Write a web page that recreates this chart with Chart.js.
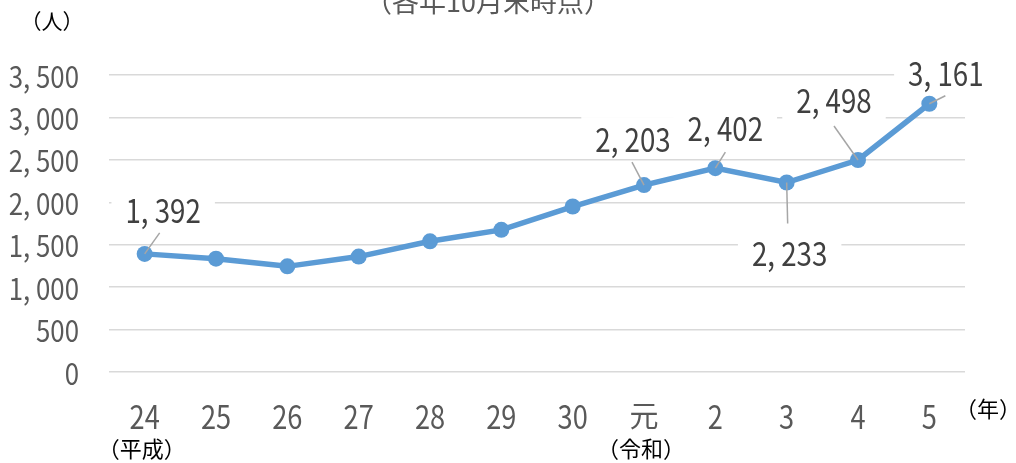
<!DOCTYPE html>
<html lang="ja">
<head>
<meta charset="utf-8">
<title>人数の推移</title>
<script src="https://cdn.jsdelivr.net/npm/chart.js@4.4.1/dist/chart.umd.min.js"></script>
<style>
  html, body { margin: 0; padding: 0; background: #ffffff; }
  #wrap { width: 1016px; height: 463px; position: relative; }
</style>
</head>
<body>
<div id="wrap"><canvas id="chart" width="1016" height="463"></canvas></div>
<script>
// Year labels (平成24年 … 令和5年) and the era captions shown under the first year of each era
const categories = ['24', '25', '26', '27', '28', '29', '30', '元', '2', '3', '4', '5'];
const eraLabels  = ['（平成）', '', '', '', '', '', '', '（令和）', '', '', '', ''];

// Number of people at the end of October each year
const residents = [1392, 1335, 1245, 1360, 1540, 1675, 1950, 2203, 2402, 2233, 2498, 3161];

// Value axis range
const yMin = 0;
const yMax = 3500;
const yStep = 500;

// Text around the plot
const titleText = '（各年10月末時点）';
const unitText = '（人）';
const yearUnitText = '（年）';

// Which points carry a value callout, and where the callout sits relative to its point
// (dx, dy: text baseline centre; lx, ly: end of the leader line)
const callouts = [
  { index: 0,  dx: 18.5, dy: -31, lx: 15,  ly: -21 },
  { index: 7,  dx: -11,  dy: -33, lx: -12, ly: -23 },
  { index: 8,  dx: 10,   dy: -27, lx: 10,  ly: -16 },
  { index: 9,  dx: 3,    dy: 83,  lx: 1,   ly: 41 },
  { index: 10, dx: -24,  dy: -47, lx: -24, ly: -34 },
  { index: 11, dx: 16.5, dy: -18, lx: 16,  ly: -8 }
];

const FONT = "'Noto Sans CJK JP', 'Noto Sans', sans-serif";
const LINE_BLUE = '#5B9BD5';
const TICK_SIZE = 30, TICK_SQUEEZE = 0.86;
const YEAR_SIZE = 32, YEAR_SQUEEZE = 0.85;
const LABEL_SIZE = 33, LABEL_SQUEEZE = 0.84;

function fmt(v) {
  return Number(v).toLocaleString('en-US').replace(/,/g, ', ');
}

// narrow numerals: draw text horizontally compressed around its anchor
function drawNarrow(ctx, text, x, y, squeeze, align) {
  ctx.save();
  ctx.translate(x, y);
  ctx.scale(squeeze, 1);
  ctx.textAlign = align;
  ctx.fillText(text, 0, 0);
  ctx.restore();
}

const calloutPlugin = {
  id: 'callouts',
  beforeDatasetsDraw(chart) {
    // white boxes behind the callout text hide the grid lines
    const ctx = chart.ctx;
    const meta = chart.getDatasetMeta(0);
    ctx.save();
    ctx.font = LABEL_SIZE + 'px ' + FONT;
    callouts.forEach(c => {
      const pt = meta.data[c.index];
      const w = ctx.measureText(fmt(residents[c.index])).width * LABEL_SQUEEZE;
      const cx = pt.x + c.dx;
      const base = pt.y + c.dy;
      ctx.fillStyle = '#ffffff';
      ctx.fillRect(cx - w / 2 - 14, base - 35, w + 28, 41);
    });
    ctx.restore();
  },
  afterDatasetsDraw(chart) {
    const ctx = chart.ctx;
    const meta = chart.getDatasetMeta(0);
    ctx.save();
    callouts.forEach(c => {
      const pt = meta.data[c.index];
      ctx.strokeStyle = '#A6A6A6';
      ctx.lineWidth = 1.5;
      ctx.beginPath();
      ctx.moveTo(pt.x, pt.y);
      ctx.lineTo(pt.x + c.lx, pt.y + c.ly);
      ctx.stroke();

      ctx.font = LABEL_SIZE + 'px ' + FONT;
      ctx.fillStyle = '#404040';
      ctx.textBaseline = 'alphabetic';
      drawNarrow(ctx, fmt(residents[c.index]), pt.x + c.dx, pt.y + c.dy, LABEL_SQUEEZE, 'center');
    });
    ctx.restore();
  },
  afterDraw(chart) {
    const ctx = chart.ctx;
    const xs = chart.scales.x;
    const ys = chart.scales.y;
    ctx.save();

    // value axis labels
    ctx.font = TICK_SIZE + 'px ' + FONT;
    ctx.fillStyle = '#595959';
    ctx.textBaseline = 'alphabetic';
    ys.ticks.forEach(t => {
      drawNarrow(ctx, fmt(t.value), ys.right - 30, ys.getPixelForValue(t.value) + 12.5, TICK_SQUEEZE, 'right');
    });

    // year labels
    xs.ticks.forEach(t => {
      const lab = xs.getLabelForValue(t.value);
      const x = xs.getPixelForValue(t.value);
      if (/^\d+$/.test(lab)) {
        ctx.font = YEAR_SIZE + 'px ' + FONT;
        drawNarrow(ctx, lab, x, 428.5, YEAR_SQUEEZE, 'center');
      } else {
        ctx.font = '29px ' + FONT;
        ctx.textAlign = 'center';
        ctx.fillText(lab, x, 427);
      }
    });

    // heading, partly above the top edge
    ctx.font = '27px ' + FONT;
    ctx.fillStyle = '#595959';
    ctx.textAlign = 'center';
    ctx.textBaseline = 'alphabetic';
    ctx.fillText(titleText, 488, 11.5);

    // unit of the value axis
    ctx.font = '21px ' + FONT;
    ctx.fillStyle = '#000000';
    ctx.textBaseline = 'middle';
    ctx.fillText(unitText, 52, 21);

    // unit of the category axis and era captions under the year labels
    ctx.font = '22px ' + FONT;
    ctx.fillText(yearUnitText, 988, 409);
    eraLabels.forEach((lab, i) => {
      if (!lab) return;
      ctx.fillText(lab, xs.getPixelForValue(i) - 3, 449);
    });
    ctx.restore();
  }
};

new Chart(document.getElementById('chart'), {
  type: 'line',
  data: {
    labels: categories,
    datasets: [{
      data: residents,
      borderColor: LINE_BLUE,
      backgroundColor: LINE_BLUE,
      borderWidth: 5.5,
      pointRadius: 8,
      pointBorderWidth: 0,
      pointBackgroundColor: LINE_BLUE,
      tension: 0,
      fill: false
    }]
  },
  options: {
    responsive: false,
    animation: false,
    devicePixelRatio: 1,
    layout: { padding: { top: 75, right: 51, left: 0, bottom: 0 } },
    plugins: {
      legend: { display: false },
      tooltip: { enabled: false },
      title: { display: false }
    },
    scales: {
      x: {
        type: 'category',
        offset: true,
        grid: { display: false, drawTicks: false },
        border: { display: false },
        ticks: { display: false, autoSkip: false },
        afterFit(scale) { scale.height = 91; }
      },
      y: {
        min: yMin,
        max: yMax,
        grid: { color: '#D9D9D9', lineWidth: 1.5, drawTicks: false },
        border: { display: false },
        ticks: { display: false, stepSize: yStep },
        afterFit(scale) { scale.width = 109; }
      }
    }
  },
  plugins: [calloutPlugin]
});
</script>
</body>
</html>
